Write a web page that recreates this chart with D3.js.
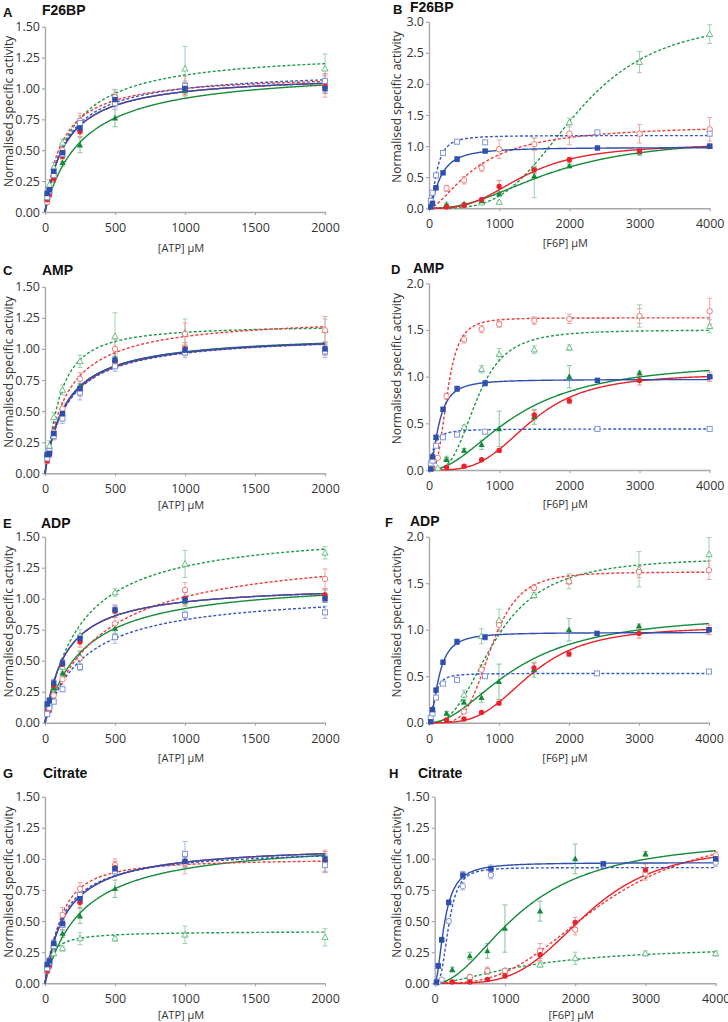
<!DOCTYPE html>
<html><head><meta charset="utf-8">
<script src="https://cdn.jsdelivr.net/npm/d3@7"></script>
<style>body{margin:0;background:#fff}</style>
</head><body>
<svg id="c" width="728" height="1022" xmlns="http://www.w3.org/2000/svg"></svg>
<script>
// ---------------- DATA ----------------
const seriesNames = ["blue","blueOpen","red","redOpen","green","greenOpen"];
const atpX = [15.6, 31.25, 62.5, 125, 250, 500, 1000, 2000];
const f6pBlueX = [25, 50, 100, 200, 400, 800, 2400, 4000];
const f6pX = [125, 250, 500, 750, 1000, 1500, 2000, 3000, 4000];
const atpTicks = [0, 500, 1000, 1500, 2000];
const f6pTicks = [0, 1000, 2000, 3000, 4000];
const yTicks150 = [0, 0.25, 0.5, 0.75, 1.0, 1.25, 1.5];
const yTicks20 = [0, 0.5, 1.0, 1.5, 2.0];
const yTicks30 = [0, 0.5, 1.0, 1.5, 2.0, 2.5, 3.0];
const panelLetters = ["A","B","C","D","E","F","G","H"];
const panelTitles = ["F26BP","F26BP","AMP","AMP","ADP","ADP","Citrate","Citrate"];
const xLabels = ["[ATP] \u00B5M","[F6P] \u00B5M","[ATP] \u00B5M","[F6P] \u00B5M","[ATP] \u00B5M","[F6P] \u00B5M","[ATP] \u00B5M","[F6P] \u00B5M"];
const yLabel = "Normalised specific activity";

// values: rows follow seriesNames
const valuesA = [
  [0.15,0.18,0.33,0.48,0.68,0.91,1.00,1.00],
  [0.12,0.17,0.30,0.47,0.72,0.88,1.02,1.06],
  [0.10,0.14,0.27,0.45,0.65,0.90,1.00,1.04],
  [0.08,0.15,0.28,0.50,0.74,0.93,1.01,1.02],
  [0.14,0.17,0.30,0.40,0.54,0.76,0.98,1.02],
  [0.12,0.22,0.36,0.56,0.73,0.95,1.16,1.16]];
const errorsA = [
  [0.02,0.02,0.03,0.03,0.03,0.03,0.03,0.03],
  [0.02,0.02,0.03,0.03,0.04,0.05,0.04,0.04],
  [0.02,0.02,0.03,0.04,0.04,0.05,0.05,0.08],
  [0.02,0.03,0.04,0.05,0.06,0.06,0.09,0.09],
  [0.02,0.02,0.03,0.03,0.06,0.07,0.04,0.04],
  [0.03,0.04,0.04,0.03,0.05,0.04,0.18,0.12]];
const fitsA = [[1.12,150,1],[1.15,150,1],[1.12,150,1],[1.12,120,1],[1.165,266,1],[1.311,183,1]];

const valuesB = [
  [0.02,0.08,0.33,0.57,0.79,0.92,0.97,1.00],
  [0.12,0.25,0.53,0.89,1.07,1.06,1.22,1.20],
  [null,0.02,0.05,0.14,0.35,0.62,0.78,0.92,1.00],
  [null,0.32,0.45,0.65,0.95,1.03,1.20,1.20,1.27],
  [null,0.05,0.07,0.12,0.23,0.52,0.68,0.90,0.99],
  [null,0.06,0.05,0.09,0.10,0.65,1.38,2.35,2.80]];
const errorsB = [
  [0.01,0.02,0.02,0.02,0.04,0.02,0.02,0.02],
  [0.02,0.02,0.02,0.02,0.02,0.02,0.03,0.04],
  [0,0.01,0.02,0.03,0.10,0.05,0.04,0.04,0.03],
  [0,0.05,0.06,0.06,0.15,0.10,0.18,0.15,0.19],
  [0,0.02,0.02,0.02,0.03,0.04,0.03,0.05,0.03],
  [0,0.02,0.03,0.03,0.02,0.48,0.07,0.17,0.15]];
const fitsB = [[0.98,160,1.6],[1.17,110,2],[1.03,1350,3],[1.35,700,1.6],[1.15,1750,2.3],[3.05,2100,3.6]];

const valuesC = [
  [0.15,0.16,0.32,0.48,0.68,0.91,0.99,1.00],
  [0.12,0.18,0.30,0.44,0.65,0.86,0.97,0.98],
  [0.10,0.15,0.30,0.47,0.66,0.90,1.00,1.00],
  [0.10,0.17,0.33,0.52,0.76,1.00,1.12,1.15],
  [0.14,0.17,0.31,0.45,0.70,0.92,0.99,1.00],
  [0.16,0.22,0.45,0.67,0.90,1.10,1.13,1.15]];
const errorsC = [
  [0.02,0.02,0.03,0.03,0.04,0.03,0.03,0.03],
  [0.02,0.02,0.03,0.04,0.06,0.04,0.04,0.05],
  [0.02,0.02,0.03,0.04,0.04,0.04,0.05,0.05],
  [0.02,0.03,0.04,0.05,0.05,0.08,0.09,0.11],
  [0.02,0.02,0.03,0.03,0.04,0.04,0.04,0.05],
  [0.03,0.04,0.04,0.04,0.05,0.19,0.11,0.09]];
const fitsC = [[1.12,150,1],[1.12,160,1],[1.12,155,1],[1.27,155,1],[1.125,152,1],[1.19,100,1.3]];

const valuesD = [
  [0.01,0.14,0.35,0.65,0.87,0.93,0.96,1.00],
  [0.07,0.10,0.26,0.35,0.38,0.41,0.44,0.44],
  [null,0.03,0.04,0.11,0.21,0.59,0.74,0.96,1.00],
  [0.13,0.79,1.40,1.51,1.56,1.60,1.62,1.65,1.70],
  [null,0.11,0.21,0.27,0.44,0.57,1.00,1.04,1.00],
  [0.02,0.12,0.46,1.08,1.24,1.29,1.31,1.65,1.54]];
const errorsD = [
  [0.01,0.02,0.02,0.02,0.03,0.03,0.02,0.02],
  [0.01,0.01,0.01,0.01,0.01,0.01,0.01,0.01],
  [0,0.01,0.01,0.01,0.02,0.05,0.03,0.05,0.05],
  [0.01,0.03,0.04,0.04,0.03,0.04,0.05,0.08,0.14],
  [0,0.02,0.02,0.05,0.19,0.08,0.12,0.02,0.02],
  [0,0.02,0.02,0.04,0.06,0.04,0.03,0.12,0.07]];
const fitsD = [[0.97,140,1.9],[0.44,60,1.5],[1.03,1450,3.5],[1.63,260,3.2],[1.17,1250,2],[1.5,680,3.3]];

const valuesE = [
  [0.15,0.18,0.32,0.48,0.68,0.91,0.99,1.00],
  [0.07,0.12,0.17,0.27,0.45,0.69,0.87,0.89],
  [0.10,0.10,0.30,0.47,0.65,0.90,1.00,1.03],
  [0.08,0.12,0.22,0.35,0.52,0.80,1.07,1.16],
  [0.14,0.17,0.28,0.40,0.54,0.76,0.98,1.02],
  [0.10,0.15,0.28,0.45,0.70,1.05,1.28,1.37]];
const errorsE = [
  [0.02,0.02,0.03,0.03,0.03,0.03,0.03,0.03],
  [0.02,0.02,0.02,0.02,0.03,0.05,0.03,0.05],
  [0.02,0.02,0.03,0.03,0.04,0.05,0.05,0.05],
  [0.02,0.03,0.03,0.04,0.05,0.05,0.06,0.08],
  [0.02,0.02,0.03,0.03,0.04,0.04,0.04,0.05],
  [0.02,0.03,0.03,0.04,0.05,0.03,0.11,0.05]];
const fitsE = [[1.12,150,1],[1.065,283,1],[1.12,150,1],[1.41,390,1],[1.165,266,1],[1.575,250,1]];

const valuesF = [
  [0.01,0.14,0.35,0.65,0.87,0.92,0.96,1.00],
  [0.05,0.10,0.27,0.42,0.46,0.50,0.53,0.55],
  [null,0.03,0.04,0.11,0.21,0.59,0.74,0.96,1.00],
  [null,null,0.12,0.57,1.05,1.45,1.52,1.62,1.64],
  [null,0.10,0.22,0.27,0.44,0.57,1.00,1.04,1.00],
  [null,null,0.30,0.93,1.10,1.37,1.52,1.65,1.81]];
const errorsF = [
  [0.01,0.02,0.02,0.02,0.03,0.03,0.02,0.02],
  [0.01,0.01,0.01,0.01,0.02,0.02,0.01,0.01],
  [0,0.01,0.01,0.01,0.02,0.05,0.03,0.05,0.05],
  [0,0,0.02,0.05,0.05,0.03,0.03,0.06,0.10],
  [0,0.02,0.02,0.05,0.19,0.08,0.12,0.02,0.02],
  [0,0,0.05,0.08,0.12,0.03,0.08,0.19,0.18]];
const fitsF = [[0.97,140,1.9],[0.53,80,2],[1.03,1450,3.5],[1.62,890,4.5],[1.17,1250,2],[1.78,950,2.6]];

const valuesG = [
  [0.15,0.18,0.32,0.48,0.68,0.92,0.98,1.00],
  [0.12,0.17,0.30,0.47,0.71,0.90,1.04,0.95],
  [0.10,0.14,0.31,0.47,0.65,0.93,0.98,0.98],
  [0.10,0.15,0.30,0.55,0.76,0.95,0.97,0.98],
  [0.14,0.17,0.30,0.40,0.54,0.76,0.98,1.00],
  [0.13,0.18,0.24,0.28,0.36,0.36,0.39,0.37]];
const errorsG = [
  [0.02,0.02,0.03,0.03,0.03,0.03,0.03,0.03],
  [0.02,0.02,0.03,0.04,0.06,0.04,0.10,0.06],
  [0.02,0.02,0.03,0.04,0.04,0.05,0.05,0.08],
  [0.02,0.03,0.03,0.06,0.05,0.05,0.09,0.09],
  [0.02,0.02,0.03,0.03,0.06,0.07,0.04,0.04],
  [0.03,0.03,0.02,0.02,0.05,0.02,0.07,0.07]];
const fitsG = [[1.12,150,1],[1.09,130,1],[1.12,150,1],[1.0,105,1.35],[1.165,266,1],[0.42,40,1]];

const valuesH = [
  [0.01,0.14,0.35,0.65,0.87,0.92,0.96,1.00],
  [0.00,0.01,0.03,0.50,0.78,0.87,0.95,0.97],
  [null,0.01,0.01,0.03,0.06,0.23,0.49,0.91,1.00],
  [null,null,0.05,0.10,0.10,0.26,0.43,0.88,1.03],
  [null,0.11,0.22,0.26,0.44,0.58,1.00,1.04,1.00],
  [null,null,0.05,0.10,0.10,0.15,0.20,0.24,0.24]];
const errorsH = [
  [0.01,0.02,0.02,0.02,0.03,0.03,0.02,0.02],
  [0.01,0.01,0.01,0.02,0.03,0.03,0.03,0.03],
  [0,0.01,0.01,0.01,0.02,0.05,0.04,0.05,0.04],
  [0,0,0.02,0.03,0.02,0.06,0.04,0.05,0.03],
  [0,0.02,0.03,0.06,0.19,0.08,0.12,0.02,0.02],
  [0,0,0.02,0.02,0.02,0.02,0.05,0.02,0.02]];
const fitsH = [[0.97,140,1.9],[0.93,200,3],[1.1,2150,4],[1.25,2350,3],[1.17,1250,2],[0.3,1400,1.6]];

// ---------------- STYLE / LAYOUT ----------------
const lineColor = {blue:"#2e4fae", blueOpen:"#3558c6", red:"#e8232b", redOpen:"#f03a3a", green:"#168a3b", greenOpen:"#1f9a4a"};
const markColor = {blue:"#2e4fae", blueOpen:"#8497db", red:"#e8232b", redOpen:"#f07c7c", green:"#168a3b", greenOpen:"#6cbd86"};
const errColor  = {blue:"#8ea0dc", blueOpen:"#a9b8ea", red:"#f08f8f", redOpen:"#f4a5a5", green:"#85c49a", greenOpen:"#9ed2ad"};
const dashed = {blue:false, blueOpen:true, red:false, redOpen:true, green:false, greenOpen:true};
const defaultShapes = {blue:"square", blueOpen:"squareOpen", red:"circle", redOpen:"circleOpen", green:"triangle", greenOpen:"triangleOpen"};

const layout = [
  {l:45,   r:325,   t:26.7,  b:212,   letterX:3,   letterY:17,  titleX:42,  titleY:15,  ylx:8,   xly:247},
  {l:429,  r:709.7, t:21.7,  b:208.3, letterX:393, letterY:14,  titleX:410, titleY:12,  ylx:396, xly:242},
  {l:45,   r:325,   t:286.7, b:473.3, letterX:3,   letterY:275, titleX:42,  titleY:275, ylx:8,   xly:504},
  {l:429,  r:709.7, t:283.3, b:470,   letterX:391, letterY:274, titleX:413, titleY:273, ylx:396, xly:503},
  {l:45,   r:325,   t:536.7, b:722.7, letterX:3,   letterY:528, titleX:41,  titleY:528, ylx:8,   xly:757},
  {l:429,  r:709,   t:536.7, b:722.7, letterX:385, letterY:527, titleX:410, titleY:526, ylx:396, xly:757},
  {l:45,   r:325,   t:796.7, b:983.3, letterX:3,   letterY:778, titleX:43,  titleY:778, ylx:8,   xly:1014},
  {l:434.7,r:715.7, t:796.7, b:983.3, letterX:389, letterY:778, titleX:418, titleY:778, ylx:396, xly:1014}
];

const panels = [
  {values:valuesA, errors:errorsA, fits:fitsA, kind:"atp", yTicks:yTicks150, fmt:".2f"},
  {values:valuesB, errors:errorsB, fits:fitsB, kind:"f6p", yTicks:yTicks30,  fmt:".1f"},
  {values:valuesC, errors:errorsC, fits:fitsC, kind:"atp", yTicks:yTicks150, fmt:".2f"},
  {values:valuesD, errors:errorsD, fits:fitsD, kind:"f6p", yTicks:yTicks20,  fmt:".1f"},
  {values:valuesE, errors:errorsE, fits:fitsE, kind:"atp", yTicks:yTicks150, fmt:".2f"},
  {values:valuesF, errors:errorsF, fits:fitsF, kind:"f6p", yTicks:yTicks20,  fmt:".1f"},
  {values:valuesG, errors:errorsG, fits:fitsG, kind:"atp", yTicks:yTicks150, fmt:".2f"},
  {values:valuesH, errors:errorsH, fits:fitsH, kind:"f6p", yTicks:yTicks150, fmt:".2f", shapes:{blueOpen:"circleOpen"}}
];

const svg = d3.select("#c");
const axisCol = "#a8a8a8";
const textFont = "'Open Sans', 'Noto Sans', sans-serif";
const boldFont = "'Liberation Sans', Arial, sans-serif";

function hill(p, x) { const [V,K,h] = p; if (x <= 0) return 0; const xh = Math.pow(x,h); return V*xh/(Math.pow(K,h)+xh); }

const drawOrder = [5,4,3,2,1,0];

panels.forEach((P, pi) => {
  const L = layout[pi];
  const xMax = P.kind === "atp" ? 2000 : 4000;
  const yMax = d3.max(P.yTicks);
  const x = d3.scaleLinear().domain([0, xMax]).range([L.l, L.r]);
  const y = d3.scaleLinear().domain([0, yMax]).range([L.b, L.t]);
  const g = svg.append("g");
  const shapes = Object.assign({}, defaultShapes, P.shapes || {});

  // axes
  const yAx = g.append("g").attr("transform", `translate(${L.l},0)`)
    .call(d3.axisLeft(y).tickValues(P.yTicks).tickFormat(d3.format(P.fmt)).tickSize(3).tickSizeOuter(0).tickPadding(2));
  const xAx = g.append("g").attr("transform", `translate(0,${L.b})`)
    .call(d3.axisBottom(x).tickValues(P.kind === "atp" ? atpTicks : f6pTicks).tickFormat(d3.format("d")).tickSize(3).tickSizeOuter(0).tickPadding(8));
  [yAx, xAx].forEach(a => {
    a.select(".domain").attr("stroke", axisCol).attr("stroke-width", 1.4);
    a.selectAll(".tick line").attr("stroke", axisCol).attr("stroke-width", 1.2);
    a.selectAll(".tick text").attr("fill", "#333").style("font-family", textFont).style("font-size", "12.5px");
  });

  // labels
  g.append("text").attr("x", L.letterX).attr("y", L.letterY).text(panelLetters[pi])
    .style("font-family", boldFont).style("font-weight", "bold").style("font-size", "13px").attr("fill", "#111");
  g.append("text").attr("x", L.titleX).attr("y", L.titleY).text(panelTitles[pi])
    .style("font-family", boldFont).style("font-weight", "bold").style("font-size", "14px").attr("fill", "#111");
  g.append("text").attr("transform", `translate(${L.ylx},${(L.t + L.b) / 2 - 8}) rotate(-90)`)
    .attr("text-anchor", "middle").attr("dominant-baseline", "central").text(yLabel)
    .style("font-family", textFont).style("font-size", "12px").attr("fill", "#333");
  g.append("text").attr("x", (L.l + L.r) / 2 - 4).attr("y", L.xly).attr("text-anchor", "middle")
    .attr("dominant-baseline", "central").text(xLabels[pi])
    .style("font-family", textFont).style("font-size", "11px").attr("fill", "#333");

  // build point data
  const pts = P.values.map((row, si) => {
    const xs = P.kind === "atp" ? atpX : (si < 2 ? f6pBlueX : f6pX);
    return row.map((v, i) => ({x: xs[i], v, e: P.errors[si][i]})).filter(d => d.v !== null);
  });

  // error bars
  const eg = g.append("g");
  drawOrder.forEach(si => {
    const s = seriesNames[si];
    pts[si].forEach(d => {
      if (!d.e) return;
      const px = x(d.x), y1 = y(d.v + d.e), y2 = y(Math.max(0, d.v - d.e));
      eg.append("line").attr("x1", px).attr("x2", px).attr("y1", y1).attr("y2", y2).attr("stroke", errColor[s]).attr("stroke-width", 1);
      [y1, y2].forEach(yy => eg.append("line").attr("x1", px - 2.5).attr("x2", px + 2.5).attr("y1", yy).attr("y2", yy).attr("stroke", errColor[s]).attr("stroke-width", 1));
    });
  });

  // fitted curves
  const samples = d3.range(0, 401).map(i => i * xMax / 400);
  drawOrder.forEach(si => {
    const s = seriesNames[si];
    const line = d3.line().x(d => x(d)).y(d => y(hill(P.fits[si], d)));
    g.append("path").attr("d", line(samples)).attr("fill", "none")
      .attr("stroke", lineColor[s]).attr("stroke-width", 1.4)
      .attr("stroke-dasharray", dashed[s] ? "3,2" : null);
  });

  // markers
  const mg = g.append("g");
  drawOrder.forEach(si => {
    const s = seriesNames[si];
    const shp = shapes[s];
    const col = markColor[s];
    pts[si].forEach(d => {
      const px = x(d.x), py = y(d.v);
      if (shp === "square") mg.append("rect").attr("x", px - 2.7).attr("y", py - 2.7).attr("width", 5.4).attr("height", 5.4).attr("fill", col);
      else if (shp === "squareOpen") mg.append("rect").attr("x", px - 2.5).attr("y", py - 2.5).attr("width", 5).attr("height", 5).attr("fill", "#fff").attr("stroke", col).attr("stroke-width", 1);
      else if (shp === "circle") mg.append("circle").attr("cx", px).attr("cy", py).attr("r", 2.7).attr("fill", col);
      else if (shp === "circleOpen") mg.append("circle").attr("cx", px).attr("cy", py).attr("r", 2.7).attr("fill", "#fff").attr("stroke", col).attr("stroke-width", 1);
      else {
        const tri = `M${px},${py - 3.3}L${px + 3.1},${py + 2.3}L${px - 3.1},${py + 2.3}Z`;
        if (shp === "triangle") mg.append("path").attr("d", tri).attr("fill", col);
        else mg.append("path").attr("d", tri).attr("fill", "#fff").attr("stroke", col).attr("stroke-width", 1);
      }
    });
  });
});
</script>
</body></html>
